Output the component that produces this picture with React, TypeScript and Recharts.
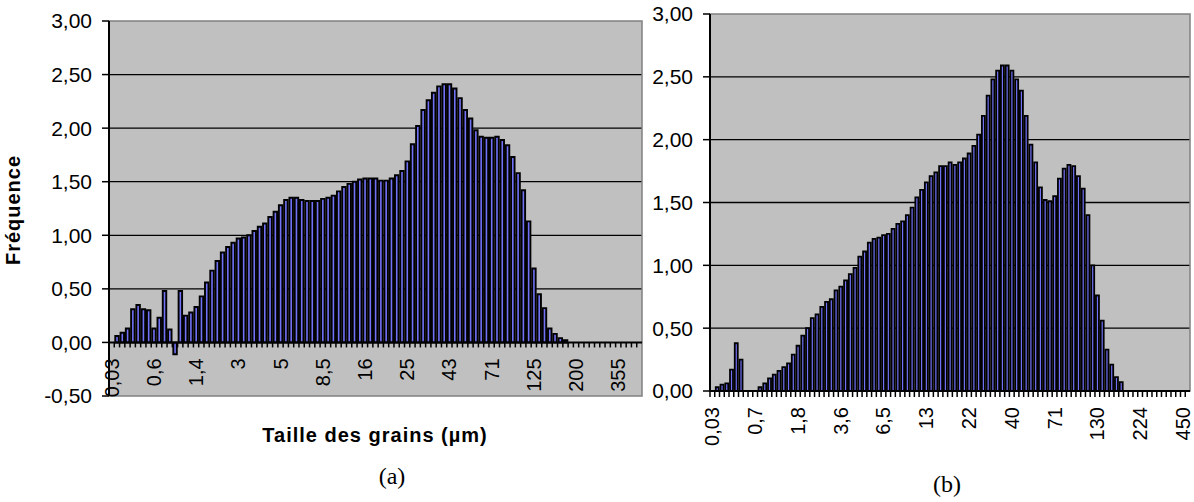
import React from 'react';
import { BarChart, Bar, XAxis, YAxis, CartesianGrid, ReferenceLine, ReferenceArea } from 'recharts';

// ---- data (a) ----
const valuesA: number[] = [
  0, 0.06, 0.09, 0.13, 0.31, 0.35, 0.31, 0.30, 0.13, 0.23,
  0.48, 0.12, -0.11, 0.48, 0.25, 0.28, 0.33, 0.43, 0.56, 0.67,
  0.76, 0.84, 0.89, 0.93, 0.97, 0.98, 1.00, 1.04, 1.08, 1.11,
  1.17, 1.22, 1.28, 1.33, 1.35, 1.35, 1.33, 1.32, 1.32, 1.32,
  1.34, 1.35, 1.37, 1.41, 1.45, 1.48, 1.50, 1.52, 1.53, 1.53,
  1.53, 1.51, 1.51, 1.53, 1.56, 1.60, 1.69, 1.85, 2.02, 2.17,
  2.26, 2.33, 2.39, 2.41, 2.41, 2.37, 2.28, 2.17, 2.09, 1.98,
  1.92, 1.91, 1.91, 1.92, 1.89, 1.84, 1.73, 1.58, 1.42, 1.13,
  0.69, 0.45, 0.32, 0.13, 0.08, 0.04, 0.02, 0, 0, 0,
  0, 0, 0, 0, 0, 0, 0, 0, 0, 0,
  0,
];
const tickLabelsA = ['0,03', '0,6', '1,4', '3', '5', '8,5', '16', '25', '43', '71', '125', '200', '355'];
const labelStepA = 8;
const yTicksA = [-0.5, 0, 0.5, 1, 1.5, 2, 2.5, 3];
const gridValuesA = [0.5, 1, 1.5, 2, 2.5];

// ---- data (b) ----
const valuesB: number[] = [
  0, 0.03, 0.05, 0.06, 0.17, 0.38, 0.25, 0, 0, 0,
  0.03, 0.06, 0.10, 0.13, 0.16, 0.19, 0.22, 0.29, 0.36, 0.44,
  0.50, 0.58, 0.61, 0.67, 0.71, 0.73, 0.80, 0.83, 0.88, 0.93,
  0.98, 1.07, 1.11, 1.18, 1.21, 1.22, 1.24, 1.25, 1.29, 1.33,
  1.35, 1.40, 1.46, 1.54, 1.60, 1.66, 1.71, 1.74, 1.79, 1.79,
  1.82, 1.80, 1.82, 1.85, 1.89, 1.95, 2.04, 2.19, 2.35, 2.48,
  2.55, 2.59, 2.59, 2.55, 2.48, 2.39, 2.19, 1.96, 1.82, 1.62,
  1.52, 1.51, 1.55, 1.69, 1.77, 1.80, 1.79, 1.71, 1.61, 1.40,
  1.00, 0.76, 0.56, 0.33, 0.21, 0.11, 0.07, 0, 0, 0,
  0, 0, 0, 0, 0, 0, 0, 0, 0, 0,
  0,
];
const tickLabelsB = ['0,03', '0,7', '1,8', '3,6', '6,5', '13', '22', '40', '71', '130', '224', '450'];
const labelStepB = 9;
const yTicksB = [0, 0.5, 1, 1.5, 2, 2.5, 3];
const gridValuesB = [0.5, 1, 1.5, 2, 2.5];

const dataA = valuesA.map((v, i) => ({ i, v }));
const dataB = valuesB.map((v, i) => ({ i, v }));

const FONT = 'Liberation Sans, Arial, sans-serif';
const SERIF = 'Liberation Serif, Times New Roman, serif';
const fmt = (v: number) => v.toFixed(2).replace('.', ',');

// layout (a)
const A_W = 660, A_H = 502;
const A_M = { top: 21, right: 18, bottom: 86, left: 0 };
const A_YW = 109, A_XH = 20;
const A_PLOT_W = A_W - A_M.left - A_M.right - A_YW;
const A_PLOT_H = A_H - A_M.top - A_M.bottom - A_XH;
const A_MIN = -0.5, A_MAX = 3;
const A_ZERO = A_M.top + (A_MAX - 0) / (A_MAX - A_MIN) * A_PLOT_H;
const A_BW = A_PLOT_W / valuesA.length;

// layout (b)
const B_LEFT = 600;
const B_W = 594, B_H = 502;
const B_M = { top: 14, right: 4, bottom: 91, left: 0 };
const B_YW = 110, B_XH = 20;
const B_PLOT_W = B_W - B_M.left - B_M.right - B_YW;
const B_PLOT_H = B_H - B_M.top - B_M.bottom - B_XH;
const B_BOTTOM = B_M.top + B_PLOT_H;
const B_BW = B_PLOT_W / valuesB.length;

const BAR_FILL = '#7272F6';

function TickA(props: any) {
  const { x, payload } = props;
  const i = Number(payload.value);
  const label = i % labelStepA === 0 ? tickLabelsA[i / labelStepA] : undefined;
  const bx = x - A_BW / 2;
  return (
    <g>
      <line x1={bx} x2={bx} y1={A_ZERO} y2={A_ZERO + 5} stroke="#000" strokeWidth={1.5} />
      {label !== undefined && (
        <text transform={`translate(${x},${A_ZERO + 16}) rotate(-90)`} textAnchor="end" dy="0.35em"
          fontSize={20} fontFamily={FONT} fill="#000">{label}</text>
      )}
    </g>
  );
}

function TickB(props: any) {
  const { x, payload } = props;
  const i = Number(payload.value);
  const label = i % labelStepB === 0 ? tickLabelsB[i / labelStepB] : undefined;
  const bx = x - B_BW / 2;
  return (
    <g>
      <line x1={bx} x2={bx} y1={B_BOTTOM} y2={B_BOTTOM + 6} stroke="#000" strokeWidth={1.5} />
      {label !== undefined && (
        <text transform={`translate(${x},${B_BOTTOM + 16}) rotate(-90)`} textAnchor="end" dy="0.35em"
          fontSize={20} fontFamily={FONT} fill="#000">{label}</text>
      )}
    </g>
  );
}

export default function App() {
  return (
    <div style={{ position: 'absolute', left: 0, top: 0, width: 1194, height: 502, background: '#fff', overflow: 'hidden' }}>
      <div style={{ position: 'absolute', left: 0, top: 0 }}>
        <BarChart width={A_W} height={A_H} data={dataA} margin={A_M} barCategoryGap={0}>
          <CartesianGrid vertical={false} horizontalValues={gridValuesA} stroke="#000" strokeWidth={1.3} fill="#C0C0C0" fillOpacity={1} />
          <ReferenceArea y1={A_MIN} y2={A_MAX} fill="none" stroke="#808080" strokeWidth={1.5} ifOverflow="visible" />
          <XAxis dataKey="i" type="category" interval={0} axisLine={false} tickLine={false} height={A_XH} tick={TickA} />
          <YAxis width={A_YW} domain={[A_MIN, A_MAX]} ticks={yTicksA} tickFormatter={fmt} interval={0}
            axisLine={{ stroke: '#000', strokeWidth: 2 }} tickLine={{ stroke: '#000', strokeWidth: 1.5 }}
            tickSize={7} tickMargin={10} tick={{ fill: '#000', fontSize: 21, fontFamily: FONT }} allowDataOverflow />
          <ReferenceLine y={0} stroke="#000" strokeWidth={2} />
          <Bar dataKey="v" fill={BAR_FILL} stroke="#000" strokeWidth={1.9} barSize={3.5} isAnimationActive={false} />
        </BarChart>
      </div>
      <div style={{ position: 'absolute', left: B_LEFT, top: 0 }}>
        <BarChart width={B_W} height={B_H} data={dataB} margin={B_M} barCategoryGap={0}>
          <CartesianGrid vertical={false} horizontalValues={gridValuesB} stroke="#000" strokeWidth={1.3} fill="#C0C0C0" fillOpacity={1} />
          <ReferenceArea y1={0} y2={3} fill="none" stroke="#808080" strokeWidth={1.5} ifOverflow="visible" />
          <XAxis dataKey="i" type="category" interval={0} axisLine={{ stroke: '#000', strokeWidth: 2 }} tickLine={false} height={B_XH} tick={TickB} />
          <YAxis width={B_YW} domain={[0, 3]} ticks={yTicksB} tickFormatter={fmt} interval={0}
            axisLine={{ stroke: '#000', strokeWidth: 2 }} tickLine={{ stroke: '#000', strokeWidth: 1.5 }}
            tickSize={7} tickMargin={10} tick={{ fill: '#000', fontSize: 21, fontFamily: FONT }} allowDataOverflow />
          <Bar dataKey="v" fill={BAR_FILL} stroke="#000" strokeWidth={1.8} barSize={3.0} isAnimationActive={false} />
        </BarChart>
      </div>
      <svg width={1194} height={502} style={{ position: 'absolute', left: 0, top: 0, pointerEvents: 'none' }}>
        <text transform="translate(20,210) rotate(-90)" textAnchor="middle" fontFamily={FONT} fontWeight="bold" fontSize={20} letterSpacing={1} fill="#000">Fréquence</text>
        <text x={375} y={442} textAnchor="middle" fontFamily={FONT} fontWeight="bold" fontSize={20} letterSpacing={1} fill="#000">Taille des grains (µm)</text>
        <text x={392} y={484} textAnchor="middle" fontFamily={SERIF} fontSize={24} fill="#000">(a)</text>
        <text x={947} y={492} textAnchor="middle" fontFamily={SERIF} fontSize={24} fill="#000">(b)</text>
      </svg>
    </div>
  );
}
